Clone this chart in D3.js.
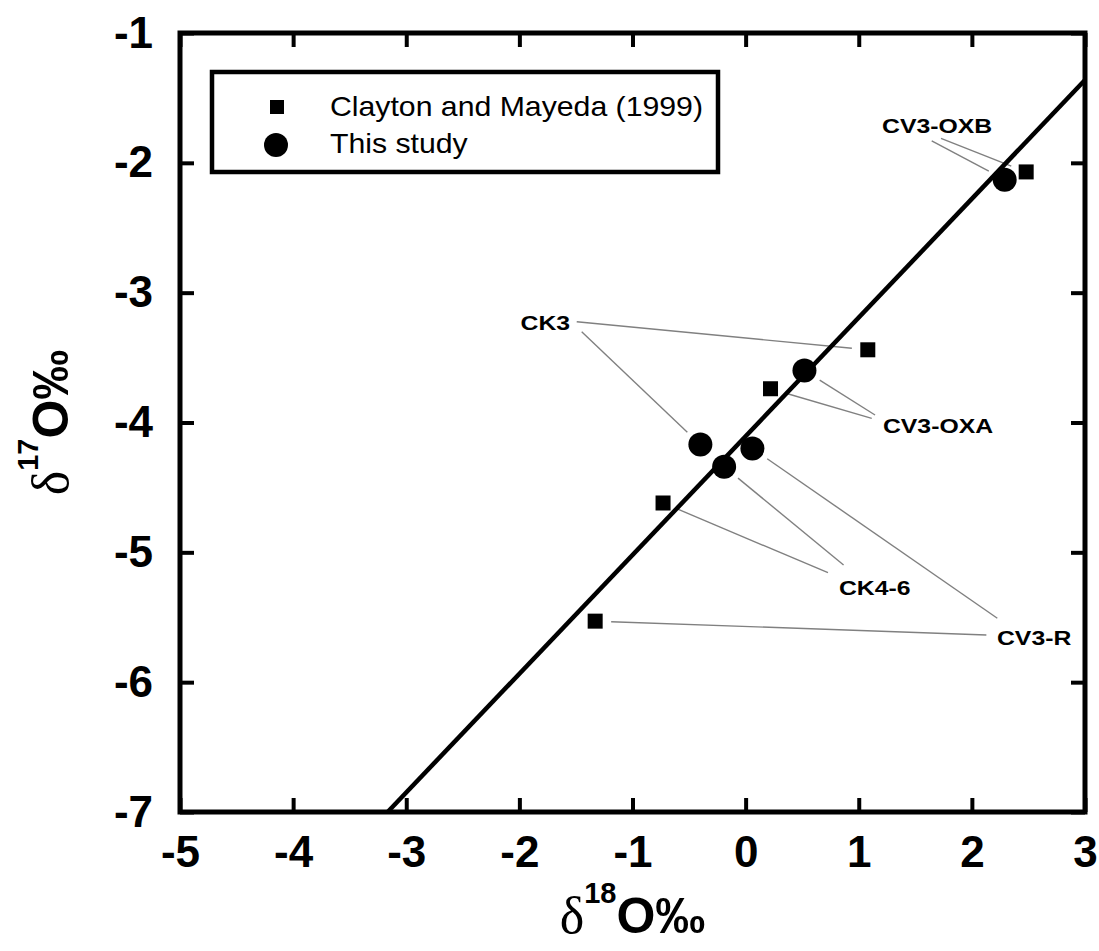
<!DOCTYPE html>
<html>
<head>
<meta charset="utf-8">
<script src="https://cdn.jsdelivr.net/npm/d3@7"></script>
<style>
  body { margin: 0; background: #fff; }
  svg { display: block; font-family: "Liberation Sans", Arial, sans-serif; }
  .tick line { stroke: #000; stroke-width: 4; }
  .tick text { font-size: 44px; font-weight: bold; fill: #000; }
</style>
</head>
<body>
<div id="display"></div>
<script>
// data
const samples = ["CV3-OXB", "CV3-OXA", "CK3", "CK4-6", "CV3-R"];
const claytonD18 = [2.48, 0.22, 1.08, -0.73, -1.33];
const claytonD17 = [-2.07, -3.74, -3.44, -4.62, -5.53];
const studyD18 = [2.29, 0.52, -0.40, -0.19, 0.06];
const studyD17 = [-2.13, -3.60, -4.17, -4.34, -4.20];
const xTicks = [-5, -4, -3, -2, -1, 0, 1, 2, 3];
const yTicks = [-7, -6, -5, -4, -3, -2, -1];
const fitSlope = 0.9145;
const fitIntercept = -4.106;
const legendNames = ["Clayton and Mayeda (1999)", "This study"];

// where the sample labels sit (data units) and where their leader lines start
const labelAt = [[1.206, -1.770], [1.214, -4.081], [-1.552, -3.288], [0.825, -5.329], [2.222, -5.714]];
const labelAnchor = ["start", "start", "end", "start", "start"];
const leaderToSquare = [[1.727, -1.811], [1.115, -3.968], [-1.493, -3.224], [0.728, -5.157], [2.128, -5.637]];
const leaderToCircle = [[1.645, -1.830], [1.144, -3.942], [-1.449, -3.301], [0.866, -5.098], [2.225, -5.508]];

function draw_chart(width, height) {
    const left = 180, right = 1085, top = 33, bottom = 812;

    const svg = d3.select("#display").append("svg")
        .attr("width", width)
        .attr("height", height);

    const x_scale = d3.scaleLinear().domain([-5, 3]).range([left, right]);
    const y_scale = d3.scaleLinear().domain([-7, -1]).range([bottom, top]);

    const fmt = d => String(d);

    // axes, ticks pointing inward on all four sides
    const gX = svg.append("g").attr("transform", `translate(0,${bottom})`)
        .call(d3.axisBottom(x_scale).tickValues(xTicks).tickSize(-14).tickPadding(24).tickFormat(fmt));
    const gXt = svg.append("g").attr("transform", `translate(0,${top})`)
        .call(d3.axisTop(x_scale).tickValues(xTicks).tickSize(-14).tickFormat(""));
    const gY = svg.append("g").attr("transform", `translate(${left},0)`)
        .call(d3.axisLeft(y_scale).tickValues(yTicks).tickSize(-14).tickPadding(27).tickFormat(fmt));
    const gYr = svg.append("g").attr("transform", `translate(${right},0)`)
        .call(d3.axisRight(y_scale).tickValues(yTicks).tickSize(-14).tickFormat(""));
    [gX, gXt, gY, gYr].forEach(g => g.select(".domain").remove());

    svg.append("rect")
        .attr("x", left).attr("y", top)
        .attr("width", right - left).attr("height", bottom - top)
        .attr("fill", "none").attr("stroke", "#000").attr("stroke-width", 5);

    // leader lines from labels to points
    function leader(start, px, py, gap) {
        const sx = x_scale(start[0]), sy = y_scale(start[1]);
        const dx = sx - px, dy = sy - py;
        const dist = Math.sqrt(dx * dx + dy * dy);
        svg.append("line")
            .attr("x1", sx).attr("y1", sy)
            .attr("x2", px + dx * gap / dist).attr("y2", py + dy * gap / dist)
            .attr("stroke", "#808080").attr("stroke-width", 1.4);
    }
    samples.forEach((s, i) => {
        leader(leaderToSquare[i], x_scale(claytonD18[i]), y_scale(claytonD17[i]), 16);
        leader(leaderToCircle[i], x_scale(studyD18[i]), y_scale(studyD17[i]), 18);
    });

    // regression line, clipped to the plot box
    let xa = (-7 - fitIntercept) / fitSlope;
    if (xa < -5) xa = -5;
    let xb = 3;
    svg.append("line")
        .attr("x1", x_scale(xa)).attr("y1", y_scale(fitSlope * xa + fitIntercept))
        .attr("x2", x_scale(xb)).attr("y2", y_scale(fitSlope * xb + fitIntercept))
        .attr("stroke", "#000").attr("stroke-width", 4.5);

    // points
    const sq = 15;
    svg.selectAll("rect.clayton").data(claytonD18).enter().append("rect")
        .attr("class", "clayton")
        .attr("x", (d, i) => x_scale(d) - sq / 2)
        .attr("y", (d, i) => y_scale(claytonD17[i]) - sq / 2)
        .attr("width", sq).attr("height", sq)
        .attr("fill", "#000");
    svg.selectAll("circle.study").data(studyD18).enter().append("circle")
        .attr("class", "study")
        .attr("cx", d => x_scale(d))
        .attr("cy", (d, i) => y_scale(studyD17[i]))
        .attr("r", 12)
        .attr("fill", "#000");

    // sample labels (the original lettering is a bit wide)
    samples.forEach((s, i) => {
        svg.append("text")
            .attr("transform", `translate(${x_scale(labelAt[i][0])},${y_scale(labelAt[i][1])}) scale(1.18,1)`)
            .attr("text-anchor", labelAnchor[i])
            .attr("font-size", 21)
            .attr("font-weight", "bold")
            .text(s);
    });

    // legend
    svg.append("rect")
        .attr("x", 212).attr("y", 72).attr("width", 506).attr("height", 100)
        .attr("fill", "#fff").attr("stroke", "#000").attr("stroke-width", 4.5);
    svg.append("rect").attr("x", 277 - 7).attr("y", 107 - 7).attr("width", 14).attr("height", 14).attr("fill", "#000");
    svg.append("circle").attr("cx", 276).attr("cy", 145).attr("r", 12).attr("fill", "#000");
    legendNames.forEach((n, i) => {
        svg.append("text")
            .attr("transform", `translate(330,${116 + i * 37}) scale(1.08,1)`)
            .attr("font-size", 28)
            .text(n);
    });

    // axis titles
    const xt = svg.append("text")
        .attr("x", (left + right) / 2).attr("y", 933)
        .attr("text-anchor", "middle")
        .attr("font-weight", "bold");
    xt.append("tspan").attr("font-family", "'Liberation Serif', serif").attr("font-weight", "normal").attr("font-size", 52).text("δ");
    xt.append("tspan").attr("font-size", 29).attr("dy", -30).text("18");
    xt.append("tspan").attr("font-size", 50).attr("dy", 30).text("O‰");

    const yt = svg.append("text")
        .attr("transform", `translate(68,${(top + bottom) / 2}) rotate(-90)`)
        .attr("text-anchor", "middle")
        .attr("font-weight", "bold");
    yt.append("tspan").attr("font-family", "'Liberation Serif', serif").attr("font-weight", "normal").attr("font-size", 52).text("δ");
    yt.append("tspan").attr("font-size", 29).attr("dy", -30).text("17");
    yt.append("tspan").attr("font-size", 50).attr("dy", 30).text("O‰");

    return svg;
}

draw_chart(1099, 951);
</script>
</body>
</html>
